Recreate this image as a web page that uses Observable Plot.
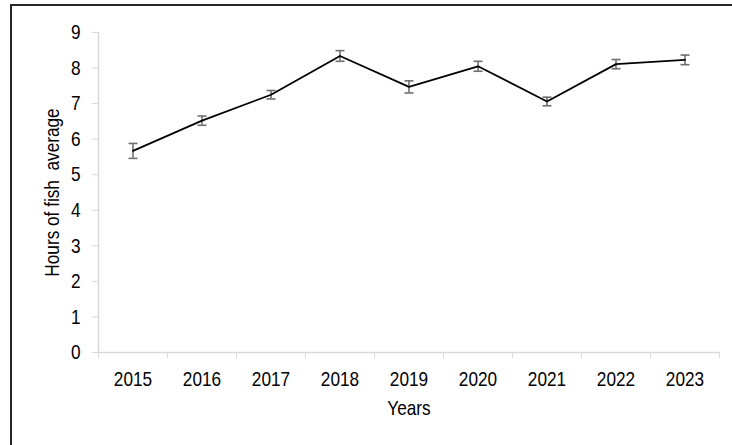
<!DOCTYPE html>
<html>
<head>
<meta charset="utf-8">
<script src="https://cdn.jsdelivr.net/npm/d3@7"></script>
<script src="https://cdn.jsdelivr.net/npm/@observablehq/plot@0.6"></script>
<style>
  html, body { margin: 0; padding: 0; background: #fff; overflow: hidden; width: 732px; height: 445px; }
  #wrap { position: relative; width: 732px; height: 445px; overflow: hidden; }
  #frame { position: absolute; left: 10px; top: 4px; width: 740px; height: 460px; border: 2px solid #262626; box-sizing: border-box; pointer-events: none; }
  svg text { white-space: pre; }
</style>
</head>
<body>
<div id="wrap"><div id="frame"></div></div>
<script>
const years = [2015, 2016, 2017, 2018, 2019, 2020, 2021, 2022, 2023];
const means = [5.67, 6.52, 7.25, 8.34, 7.47, 8.05, 7.06, 8.11, 8.23];
const errors = [0.21, 0.13, 0.12, 0.15, 0.17, 0.14, 0.12, 0.13, 0.135];
const yTicks = [0, 1, 2, 3, 4, 5, 6, 7, 8, 9];
const xLabel = "Years";
const yLabel = "Hours of fish  average";

const data = years.map((y, i) => ({year: y, mean: means[i], lo: means[i] - errors[i], hi: means[i] + errors[i]}));
const bounds = [years[0] - 0.5, ...years.map(y => y + 0.5)];

const capSymbol = {
  draw(ctx, size) {
    const r = Math.sqrt(size / Math.PI);
    ctx.moveTo(-r, 0);
    ctx.lineTo(r, 0);
  }
};

const font = "'Liberation Sans', Arial, sans-serif";
const fs = 21;
const gridGray = "#d9d9d9";
const errGray = "#6f6f6f";

const chart = Plot.plot({
  width: 732,
  height: 445,
  marginLeft: 98,
  marginRight: 13,
  marginTop: 32,
  marginBottom: 93,
  style: {fontFamily: font, fontSize: fs + "px", color: "#000", background: "transparent", overflow: "visible"},
  x: {type: "linear", domain: [bounds[0], bounds[bounds.length - 1]]},
  y: {domain: [0, 9]},
  marks: [
    Plot.ruleY([0], {stroke: gridGray, strokeWidth: 1.5}),
    Plot.ruleX([bounds[0]], {stroke: gridGray, strokeWidth: 1.5}),
    Plot.axisY({ticks: yTicks, tickSize: 6, tickPadding: 12, stroke: gridGray, fill: "#000", label: null, tickFormat: "d", fontSize: fs}),
    Plot.axisX({ticks: bounds, tickSize: 6, stroke: gridGray, tickFormat: () => "", label: null}),
    Plot.axisX({ticks: years, tickSize: 0, tickPadding: 19, fill: "#000", tickFormat: "d", label: null, fontSize: fs}),
    Plot.text([xLabel], {frameAnchor: "bottom", dy: 56, lineAnchor: "middle", textAnchor: "middle", text: d => d, fontSize: fs, fill: "#000"}),
    Plot.text([yLabel], {frameAnchor: "left", dx: -46, rotate: -90, textAnchor: "middle", lineAnchor: "middle", text: d => d, fontSize: fs, fill: "#000"}),
    Plot.ruleX(data, {x: "year", y1: "lo", y2: "hi", stroke: errGray, strokeWidth: 1.6}),
    Plot.dot(data, {x: "year", y: "lo", symbol: capSymbol, r: 4.5, stroke: errGray, strokeWidth: 1.6, fill: "none"}),
    Plot.dot(data, {x: "year", y: "hi", symbol: capSymbol, r: 4.5, stroke: errGray, strokeWidth: 1.6, fill: "none"}),
    Plot.line(data, {x: "year", y: "mean", stroke: "#000", strokeWidth: 1.8})
  ]
});

// Emulate a narrow (Arial Narrow-like) face: squeeze each text horizontally around its own anchor.
const squeeze = 0.82;
chart.querySelectorAll("text").forEach(t => {
  const tr = t.getAttribute("transform") || "";
  t.setAttribute("transform", (tr + ` scale(${squeeze},1)`).trim());
});

chart.style.position = "absolute";
chart.style.left = "0px";
chart.style.top = "0px";
document.getElementById("wrap").prepend(chart);
</script>
</body>
</html>
